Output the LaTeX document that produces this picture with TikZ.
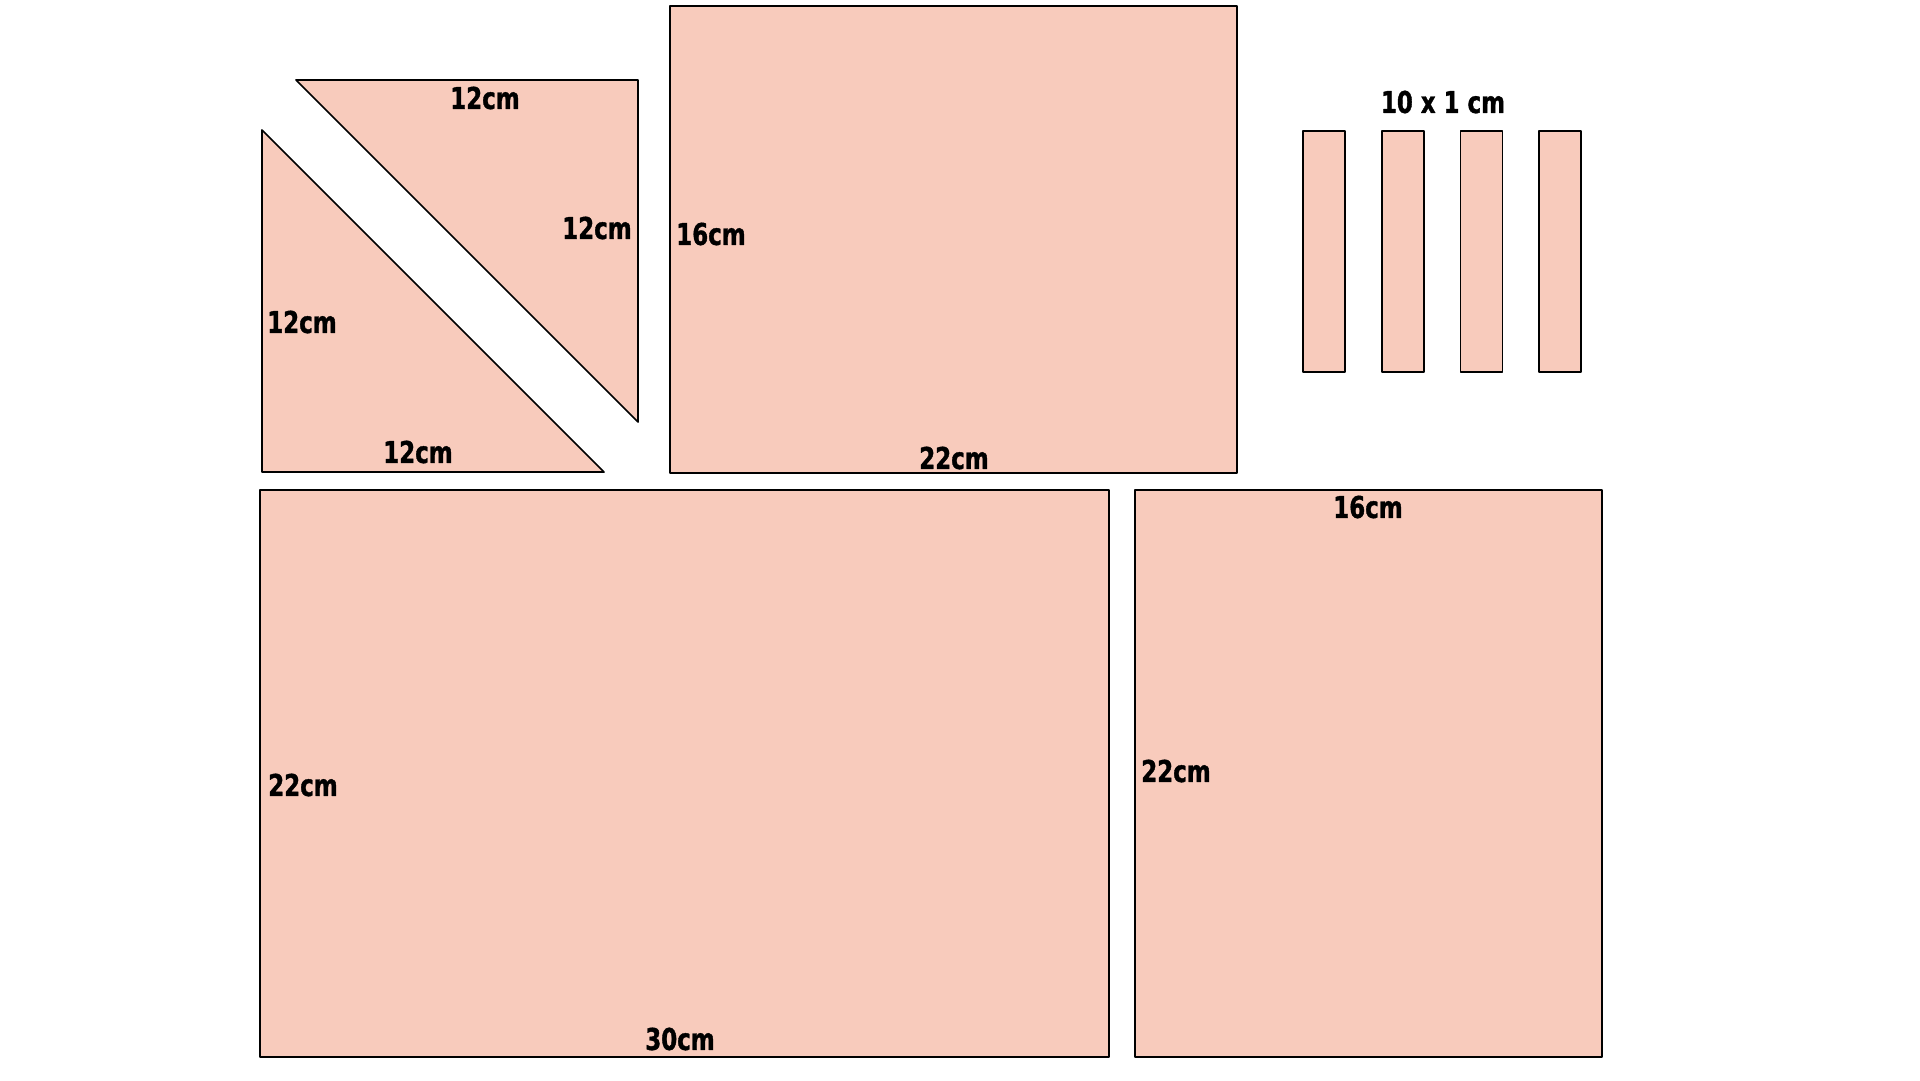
\documentclass[tikz,border=0pt]{standalone}
\usepackage{fontspec}
\setmainfont{DejaVu Sans Condensed}
\newfontfamily\dimfont{DejaVu Sans Condensed Bold}[FakeStretch=0.85,FakeBold=1.2]
\definecolor{panel}{RGB}{248,203,188}
\tikzset{piece/.style={draw=black,fill=panel,line width=1.7pt},
dim/.style={font=\dimfont\fontsize{30}{30}\selectfont,inner sep=0pt}}
\begin{document}
\begin{tikzpicture}[line cap=round,line join=round,x=1pt,y=-1pt]
\useasboundingbox (0,0) rectangle (1920,1080);
% triangles
\draw[piece] (262,130)--(262,472)--(604,472)--cycle;
\draw[piece] (296,80)--(638,80)--(638,422)--cycle;
% panels
\draw[piece] (670,6) rectangle (1237,473);
\draw[piece] (260,490) rectangle (1109,1057);
\draw[piece] (1135,490) rectangle (1602,1057);
% strips
\foreach \i in {0,...,3}
{
\draw[piece] (1303+78.7*\i,131) rectangle ++(42,241);
}
\node[dim] (tritop) at (485,98) {12cm};
\node[dim] (triright) at (597,228) {12cm};
\node[dim] (trileft) at (302,322) {12cm};
\node[dim] (tribottom) at (418,452) {12cm};
\node[dim] (backside) at (711,234) {16cm};
\node[dim] (backbottom) at (954,458) {22cm};
\node[dim] (baseside) at (303,785) {22cm};
\node[dim] (basebottom) at (680,1039) {30cm};
\node[dim] (sidetop) at (1368,507) {16cm};
\node[dim] (sideside) at (1176,771) {22cm};
\node[dim] (strips) at (1443,102) {10 x 1 cm};
\end{tikzpicture}
\end{document}
